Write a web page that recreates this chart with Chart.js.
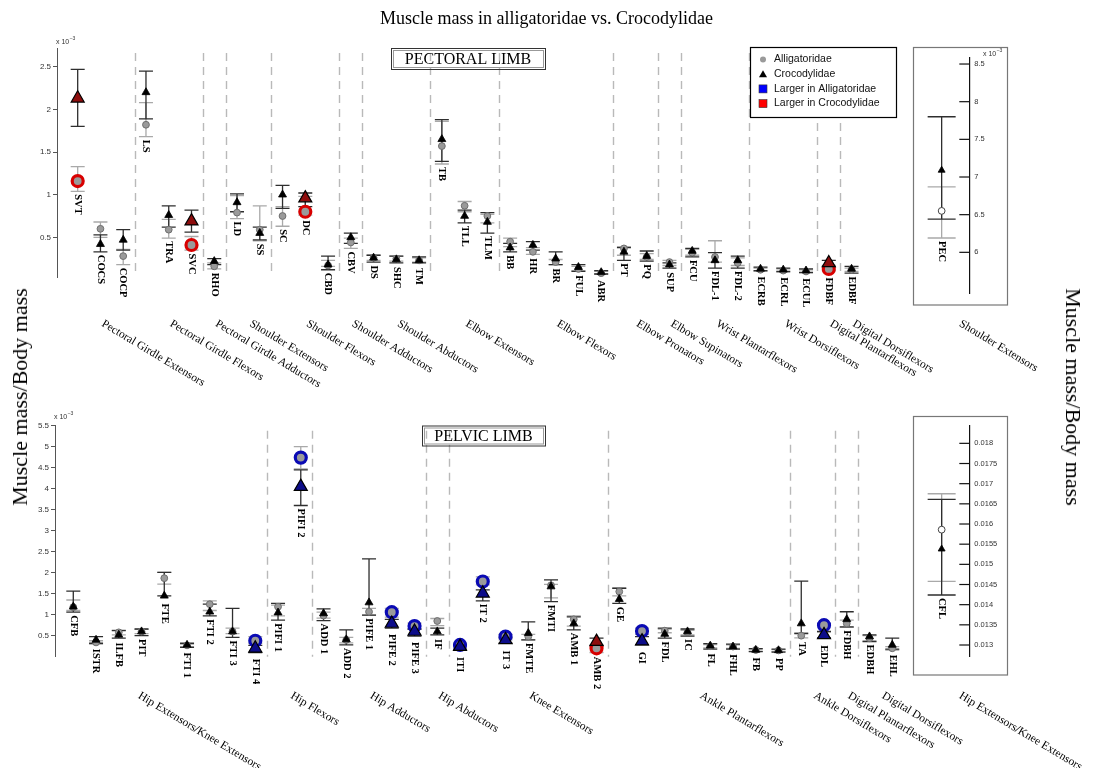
<!DOCTYPE html>
<html>
<head>
<meta charset="utf-8">
<script src="https://cdn.jsdelivr.net/npm/chart.js@4/dist/chart.umd.min.js"></script>
<style>
  body { margin: 0; background: #fff; }
  #wrap { position: relative; width: 1093px; height: 768px; overflow: hidden; font-family: "Liberation Serif", "Times New Roman", serif; color: #000; }
  canvas { position: absolute; }
  .title { position: absolute; left: 0; top: 7px; width: 1093px; text-align: center; font-size: 18px; line-height: 22px; z-index: 5; }
  .ylab { position: absolute; font-size: 22px; white-space: nowrap; z-index: 5; }
</style>
</head>
<body>
<div id="wrap">
  <div class="title">Muscle mass in alligatoridae vs. Crocodylidae</div>
  <div class="ylab" style="left:20px;top:397px;transform:translate(-50%,-50%) rotate(-90deg)">Muscle mass/Body mass</div>
  <div class="ylab" style="left:1073px;top:397px;transform:translate(-50%,-50%) rotate(90deg)">Muscle mass/Body mass</div>
  <canvas id="topMain" width="1093" height="400" style="left:0;top:0"></canvas>
  <canvas id="topInset" width="193" height="345" style="left:900px;top:40px"></canvas>
  <canvas id="botMain" width="1093" height="368" style="left:0;top:400px"></canvas>
  <canvas id="botInset" width="193" height="363" style="left:900px;top:405px"></canvas>
</div>
<script>
const SERIF = '"Liberation Serif", "Times New Roman", serif';
const SANS = '"Liberation Sans", Arial, sans-serif';

// ---- pectoral limb (x 10^-3) ----
const topNames = ['SVT','COCS','COCP','LS','TRA','SVC','RHO','LD','SS','SC','DC','CBD','CBV','DS','SHC','TM','TB','TLL','TLM','BB','HR','BR','FUL','ABR','PT','PQ','SUP','FCU','FDL-1','FDL-2','ECRB','ECRL','ECUL','FDBF','EDBF'];
const topAlli   = [1.16,0.60,0.28,1.82,0.59,0.41,0.16,0.79,0.59,0.75,0.80,0.17,0.44,0.26,0.25,0.23,1.57,0.87,0.75,0.45,0.33,0.21,0.13,0.08,0.37,0.27,0.21,0.32,0.27,0.20,0.12,0.11,0.10,0.13,0.12];
const topAlliLo = [1.04,0.50,0.18,1.68,0.49,0.35,0.13,0.72,0.46,0.63,0.76,0.16,0.37,0.23,0.22,0.21,1.36,0.80,0.67,0.39,0.30,0.18,0.11,0.07,0.29,0.24,0.17,0.29,0.21,0.17,0.10,0.09,0.08,0.11,0.10];
const topAlliHi = [1.33,0.68,0.36,2.08,0.71,0.51,0.20,0.99,0.87,0.86,0.98,0.23,0.49,0.29,0.28,0.26,1.86,0.92,0.77,0.49,0.38,0.24,0.16,0.10,0.39,0.31,0.23,0.36,0.46,0.26,0.14,0.13,0.12,0.17,0.14];
const topCroc   = [2.13,0.42,0.47,2.20,0.76,0.69,0.22,0.91,0.55,1.00,0.96,0.18,0.50,0.26,0.24,0.23,1.65,0.75,0.68,0.38,0.41,0.25,0.15,0.09,0.33,0.28,0.18,0.34,0.23,0.23,0.13,0.12,0.11,0.20,0.13];
const topCrocLo = [1.80,0.33,0.35,1.89,0.62,0.56,0.18,0.80,0.47,0.84,0.86,0.12,0.43,0.21,0.20,0.20,1.39,0.67,0.55,0.33,0.35,0.18,0.10,0.07,0.23,0.22,0.14,0.27,0.14,0.14,0.11,0.10,0.09,0.15,0.08];
const topCrocHi = [2.47,0.53,0.59,2.45,0.87,0.82,0.25,1.01,0.62,1.11,1.02,0.28,0.55,0.29,0.28,0.27,1.88,0.82,0.79,0.43,0.45,0.33,0.18,0.11,0.38,0.34,0.20,0.37,0.32,0.28,0.15,0.14,0.13,0.23,0.16];
const topLargerAlli = [];
const topLargerCroc = ['SVT','SVC','DC','FDBF'];
const topGroups = ['Pectoral Girdle Extensors','Pectoral Girdle Flexors','Pectoral Girdle Adductors','Shoulder Extensors','Shoulder Flexors','Shoulder Adductors','Shoulder Abductors','Elbow Extensors','Elbow Flexors','Elbow Pronators','Elbow Supinators','Wrist Plantarflexors','Wrist Dorsiflexors','Digital Plantarflexors','Digital Dorsiflexors'];
const topGroupStarts = [0,3,6,7,9,12,13,16,19,24,26,27,30,33,34];
const topTicks = [0.5,1,1.5,2,2.5];

// ---- pectoral inset (x 10^-3) ----
const pecNames = ['PEC'];
const pecAlli = [6.55], pecAlliLo = [6.19], pecAlliHi = [6.87];
const pecCroc = [7.09], pecCrocLo = [6.44], pecCrocHi = [7.80];
const pecGroup = 'Shoulder Extensors';
const pecTicks = [6,6.5,7,7.5,8,8.5];

// ---- pelvic limb (x 10^-3) ----
const botNames = ['CFB','ISTR','ILFB','PIT','FTE','FTI 1','FTI 2','FTI 3','FTI 4','PIFI 1','PIFI 2','ADD 1','ADD 2','PIFE 1','PIFE 2','PIFE 3','IF','ITI','IT 2','IT 3','FMTE','FMTI','AMB 1','AMB 2','GE','GI','FDL','IC','FL','FHL','FB','PP','TA','EDL','FDBH','EDBH','EHL'];
const botAlli   = [1.18,0.34,0.58,0.60,1.87,0.27,1.25,0.60,0.38,1.19,4.74,0.98,0.40,1.07,1.06,0.73,0.85,0.28,1.79,0.48,0.48,1.70,0.89,0.20,1.55,0.61,0.62,0.58,0.25,0.24,0.16,0.15,0.50,0.75,0.79,0.44,0.20];
const botAlliLo = [1.10,0.30,0.52,0.55,1.73,0.24,1.10,0.55,0.32,0.97,4.47,0.92,0.33,0.99,0.94,0.65,0.74,0.24,1.71,0.40,0.40,1.40,0.73,0.10,1.45,0.53,0.57,0.52,0.21,0.20,0.13,0.12,0.45,0.59,0.70,0.38,0.16];
const botAlliHi = [1.35,0.38,0.63,0.65,2.01,0.30,1.33,0.68,0.48,1.23,5.00,1.06,0.46,1.15,1.15,0.80,0.91,0.32,1.90,0.53,0.53,1.72,0.97,0.28,1.63,0.68,0.66,0.63,0.29,0.28,0.18,0.17,0.57,0.79,0.87,0.50,0.24];
const botCroc   = [1.19,0.40,0.52,0.60,1.45,0.28,1.07,0.60,0.20,1.05,4.05,1.03,0.41,1.29,0.79,0.60,0.60,0.24,1.51,0.40,0.56,1.67,0.79,0.36,1.37,0.37,0.54,0.60,0.26,0.24,0.16,0.15,0.79,0.52,0.89,0.48,0.28];
const botCrocLo = [1.06,0.32,0.44,0.50,1.45,0.22,0.97,0.46,0.10,0.87,3.60,0.86,0.28,0.99,0.68,0.49,0.52,0.18,1.33,0.32,0.40,1.31,0.64,0.25,1.27,0.28,0.44,0.49,0.18,0.18,0.12,0.11,0.55,0.45,0.71,0.36,0.18];
const botCrocHi = [1.56,0.48,0.62,0.66,2.01,0.32,1.25,1.15,0.27,1.27,4.45,1.14,0.64,2.33,0.89,0.66,0.68,0.29,1.59,0.45,0.83,1.83,0.95,0.44,1.63,0.48,0.68,0.66,0.31,0.30,0.19,0.18,1.80,0.60,1.07,0.52,0.44];
const botLargerAlli = ['FTI 4','PIFI 2','PIFE 2','PIFE 3','ITI','IT 2','IT 3','GI','EDL'];
const botLargerCroc = ['AMB 2'];
const botGroups = ['Hip Extensors/Knee Extensors','Hip Flexors','Hip Adductors','Hip Abductors','Knee Extensors','Ankle Plantarflexors','Ankle Dorsiflexors','Digital Plantarflexors','Digital Dorsiflexors'];
const botGroupStarts = [0,9,11,16,17,24,32,34,35];
// where each slanted group name starts, in category units (first one sits left of centre)
const botGroupAt = [2.8,9.5,13,16,20,27.5,32.5,34,35.5];
const botTicks = [0.5,1,1.5,2,2.5,3,3.5,4,4.5,5,5.5];

// ---- pelvic inset ----
const cflNames = ['CFL'];
const cflAlli = [0.01586], cflAlliLo = [0.01458], cflAlliHi = [0.01675];
const cflCroc = [0.01538], cflCrocLo = [0.01424], cflCrocHi = [0.01661];
const cflGroup = 'Hip Extensors/Knee Extensors';
const cflTicks = [0.013,0.0135,0.014,0.0145,0.015,0.0155,0.016,0.0165,0.017,0.0175,0.018];

const legendItems = ['Alligatoridae','Crocodylidae','Larger in Alligatoridae','Larger in Crocodylidae'];

function makeDatasets(names, alli, alliLo, alliHi, croc, crocLo, crocHi, largerA, largerC, inset) {
  const mark = n => largerA.includes(n) ? 'A' : (largerC.includes(n) ? 'C' : '');
  const m = names.map(mark);
  const crocSet = {
    label: 'Crocodylidae',
    data: croc.map((v, i) => ({ x: inset ? 0.5 : i, y: v })),
    lo: crocLo, hi: crocHi, errColor: '#2e2e2e',
    pointStyle: 'triangle',
    pointRadius: m.map(k => k ? 7.5 : (inset ? 4 : 4.6)),
    pointBackgroundColor: m.map(k => k === 'C' ? '#8e0d0d' : (k === 'A' ? '#0d0d8a' : '#000')),
    pointBorderColor: '#000',
    pointBorderWidth: m.map(k => k ? 1.2 : 0.8),
    showLine: false
  };
  const alliSet = {
    label: 'Alligatoridae',
    data: alli.map((v, i) => ({ x: inset ? 0.5 : i, y: v })),
    lo: alliLo, hi: alliHi, errColor: '#a9a9a9',
    pointStyle: 'circle',
    pointRadius: m.map(k => k ? 5.5 : 3.4),
    pointBackgroundColor: inset ? '#fff' : '#9a9a9a',
    pointBorderColor: m.map(k => k === 'C' ? '#d80000' : (k === 'A' ? '#0a0ab4' : (inset ? '#444' : '#6e6e6e'))),
    pointBorderWidth: m.map(k => k ? 3.2 : 1),
    showLine: false
  };
  return [crocSet, alliSet];
}

function radiusAt(set, i) {
  return Array.isArray(set.pointRadius) ? set.pointRadius[i] : set.pointRadius;
}

function makeDecor(cfg) {
  return {
    id: 'decor',
    beforeDatasetsDraw(chart) {
      const ctx = chart.ctx, xs = chart.scales.x, ys = chart.scales.y, a = chart.chartArea;
      ctx.save();
      if (cfg.starts) {
        ctx.strokeStyle = '#b9b9b9'; ctx.lineWidth = 1.4; ctx.setLineDash([8, 6]);
        cfg.starts.slice(1).forEach(s => {
          const px = Math.round(xs.getPixelForValue(s - 0.5)) + 0.5;
          ctx.beginPath(); ctx.moveTo(px, a.top + 5); ctx.lineTo(px, a.bottom); ctx.stroke();
        });
        ctx.setLineDash([]);
      }
      const ds = chart.data.datasets;
      for (let d = ds.length - 1; d >= 0; d--) {
        const set = ds[d];
        ctx.strokeStyle = set.errColor; ctx.lineWidth = 1.3;
        set.data.forEach((pt, i) => {
          const px = xs.getPixelForValue(pt.x);
          const yh = ys.getPixelForValue(set.hi[i]), yl = ys.getPixelForValue(set.lo[i]);
          ctx.beginPath();
          ctx.moveTo(px, yh); ctx.lineTo(px, yl);
          ctx.moveTo(px - cfg.cap, yh); ctx.lineTo(px + cfg.cap, yh);
          ctx.moveTo(px - cfg.cap, yl); ctx.lineTo(px + cfg.cap, yl);
          ctx.stroke();
        });
      }
      ctx.restore();
    },
    afterDatasetsDraw(chart) {
      const ctx = chart.ctx, xs = chart.scales.x, ys = chart.scales.y, a = chart.chartArea;
      const ds = chart.data.datasets;
      ctx.save();
      // muscle names under each pair of error bars
      ctx.fillStyle = '#000'; ctx.font = 'bold 10.5px ' + SERIF;
      ctx.textAlign = 'left'; ctx.textBaseline = 'middle';
      cfg.names.forEach((n, i) => {
        let y = 0, px = 0;
        ds.forEach(set => {
          px = xs.getPixelForValue(set.data[i].x);
          y = Math.max(y, ys.getPixelForValue(set.lo[i]), ys.getPixelForValue(set.data[i].y) + radiusAt(set, i));
        });
        ctx.save(); ctx.translate(px, y + 3); ctx.rotate(Math.PI / 2); ctx.fillText(n, 0, 0); ctx.restore();
      });
      // slanted group names
      ctx.font = '11.5px ' + SERIF; ctx.textBaseline = 'top';
      cfg.groups.forEach((g, k) => {
        let px;
        if (cfg.groupX !== undefined) px = cfg.groupX;
        else if (cfg.groupAt) px = xs.getPixelForValue(cfg.groupAt[k]) + 5;
        else {
          const s = cfg.starts[k];
          const e = (k + 1 < cfg.starts.length ? cfg.starts[k + 1] : cfg.names.length) - 1;
          px = xs.getPixelForValue((s + e) / 2) + 5;
        }
        ctx.save(); ctx.translate(px, cfg.groupY); ctx.rotate(31 * Math.PI / 180); ctx.fillText(g, 0, 0); ctx.restore();
      });
      // boxed panel title
      if (cfg.box) {
        const b = cfg.box;
        ctx.strokeStyle = '#333'; ctx.lineWidth = 1;
        ctx.strokeRect(b.x + 0.5, b.y + 0.5, b.w, b.h);
        ctx.strokeStyle = '#999';
        ctx.strokeRect(b.x + 2.5, b.y + 2.5, b.w - 4, b.h - 4);
        ctx.fillStyle = '#000'; ctx.font = '16px ' + SERIF; ctx.textAlign = 'center'; ctx.textBaseline = 'middle';
        ctx.fillText(b.text, b.x + b.w / 2, b.y + b.h / 2 + 1);
      }
      // exponent note
      if (cfg.exp) {
        ctx.fillStyle = '#333'; ctx.textAlign = 'left'; ctx.textBaseline = 'alphabetic';
        ctx.font = '7px ' + SANS;
        ctx.fillText('x 10', cfg.exp.x, cfg.exp.y);
        ctx.font = '5px ' + SANS;
        ctx.fillText('\u22123', cfg.exp.x + ctx.measureText('x 10').width * 1.45, cfg.exp.y - 4);
      }
      // inset frame and inward ticks
      if (cfg.frame) {
        const f = cfg.frame;
        ctx.strokeStyle = '#777'; ctx.lineWidth = 1.2;
        ctx.strokeRect(f.x, f.y, f.w, f.h);
        ctx.strokeStyle = '#111'; ctx.lineWidth = 1.2;
        ys.ticks.forEach(t => {
          const py = ys.getPixelForValue(t.value);
          ctx.beginPath(); ctx.moveTo(a.right - 10, py); ctx.lineTo(a.right, py); ctx.stroke();
        });
      }
      // legend
      if (cfg.legend) {
        const L = cfg.legend;
        ctx.fillStyle = '#fff'; ctx.fillRect(L.x, L.y, L.w, L.h);
        ctx.strokeStyle = '#000'; ctx.lineWidth = 1.2; ctx.strokeRect(L.x + 0.5, L.y + 0.5, L.w, L.h);
        ctx.font = '10.5px ' + SANS; ctx.textAlign = 'left'; ctx.textBaseline = 'middle';
        legendItems.forEach((t, k) => {
          const cy = L.y + 12.5 + k * 14.7, cx = L.x + 13;
          if (k === 0) { ctx.fillStyle = '#9a9a9a'; ctx.beginPath(); ctx.arc(cx, cy, 3, 0, Math.PI * 2); ctx.fill(); }
          if (k === 1) { ctx.fillStyle = '#000'; ctx.beginPath(); ctx.moveTo(cx, cy - 4); ctx.lineTo(cx + 4, cy + 3); ctx.lineTo(cx - 4, cy + 3); ctx.closePath(); ctx.fill(); }
          if (k === 2) { ctx.fillStyle = '#0000ff'; ctx.fillRect(cx - 4, cy - 4, 8, 8); ctx.strokeStyle = '#333'; ctx.lineWidth = 0.6; ctx.strokeRect(cx - 4, cy - 4, 8, 8); }
          if (k === 3) { ctx.fillStyle = '#ff0000'; ctx.fillRect(cx - 4, cy - 4, 8, 8); ctx.strokeStyle = '#333'; ctx.lineWidth = 0.6; ctx.strokeRect(cx - 4, cy - 4, 8, 8); }
          ctx.fillStyle = '#111'; ctx.fillText(t, L.x + 24, cy);
        });
      }
      ctx.restore();
    }
  };
}

function fmt(v) { return String(Number(v.toPrecision(6))); }

function buildChart(id, p) {
  const right = !!p.inset;
  return new Chart(document.getElementById(id), {
    type: 'scatter',
    data: { datasets: p.datasets },
    options: {
      responsive: false, animation: false, devicePixelRatio: 1,
      layout: { padding: p.padding },
      plugins: { legend: { display: false }, tooltip: { enabled: false } },
      scales: {
        x: { type: 'linear', display: false, min: p.xMin, max: p.xMax },
        y: {
          type: 'linear', position: right ? 'right' : 'left',
          min: p.yMin, max: p.yMax,
          afterFit: s => { s.width = p.axisW; },
          afterBuildTicks: s => { s.ticks = p.ticks.map(v => ({ value: v })); },
          ticks: {
            font: { family: SANS, size: right ? 7.5 : 8 }, color: '#333',
            padding: right ? 5 : 2, callback: v => fmt(v)
          },
          grid: { drawOnChartArea: false, drawTicks: !right, tickLength: right ? 0 : 4, color: '#555' },
          border: { color: right ? '#111' : '#555', width: right ? 1.2 : 1 }
        }
      }
    },
    plugins: [makeDecor(p.decor)]
  });
}

// top main: plot area x 57..880, y 48..277
buildChart('topMain', {
  datasets: makeDatasets(topNames, topAlli, topAlliLo, topAlliHi, topCroc, topCrocLo, topCrocHi, topLargerAlli, topLargerCroc, false),
  padding: { left: 27, top: 48, right: 213, bottom: 123 }, axisW: 30,
  xMin: -0.909, xMax: 35.25, yMin: 0.035, yMax: 2.72, ticks: topTicks,
  decor: {
    names: topNames, groups: topGroups, starts: topGroupStarts, groupY: 318, cap: 7,
    box: { x: 391, y: 48, w: 154, h: 21, text: 'PECTORAL LIMB' },
    exp: { x: 56, y: 44 },
    legend: { x: 750, y: 47, w: 146, h: 70 }
  }
});

// top inset: plot area x 914..969.3, y 58..293 (page)
buildChart('topInset', {
  inset: true,
  datasets: makeDatasets(pecNames, pecAlli, pecAlliLo, pecAlliHi, pecCroc, pecCrocLo, pecCrocHi, [], [], true),
  padding: { left: 14, top: 18, right: 193 - 69.3 - 40, bottom: 345 - 253 }, axisW: 40,
  xMin: 0, xMax: 1, yMin: 5.46, yMax: 8.58, ticks: pecTicks,
  decor: {
    names: pecNames, groups: [pecGroup], groupX: 63, groupY: 278, cap: 14,
    frame: { x: 13.5, y: 7.5, w: 94, h: 257.5 },
    exp: { x: 83, y: 16 }
  }
});

// bottom main: plot area x 55..910, y 425.7..656.7 (page)
buildChart('botMain', {
  datasets: makeDatasets(botNames, botAlli, botAlliLo, botAlliHi, botCroc, botCrocLo, botCrocHi, botLargerAlli, botLargerCroc, false),
  padding: { left: 25, top: 25.7, right: 183, bottom: 111.3 }, axisW: 30,
  xMin: -0.804, xMax: 36.78, yMin: 0, yMax: 5.5, ticks: botTicks,
  decor: {
    names: botNames, groups: botGroups, starts: botGroupStarts, groupAt: botGroupAt, groupY: 290, cap: 7,
    box: { x: 422, y: 25.5, w: 123, h: 20, text: 'PELVIC LIMB' },
    exp: { x: 54, y: 19 }
  }
});

// bottom inset: plot area x 914..969.3, y 426..656.7 (page)
buildChart('botInset', {
  inset: true,
  datasets: makeDatasets(cflNames, cflAlli, cflAlliLo, cflAlliHi, cflCroc, cflCrocLo, cflCrocHi, [], [], true),
  padding: { left: 14, top: 21, right: 193 - 69.3 - 40, bottom: 363 - 251.7 }, axisW: 40,
  xMin: 0, xMax: 1, yMin: 0.01271, yMax: 0.01843, ticks: cflTicks,
  decor: {
    names: cflNames, groups: [cflGroup], groupX: 63, groupY: 285, cap: 14,
    frame: { x: 13.5, y: 11.5, w: 94, h: 258.5 }
  }
});
</script>
</body>
</html>
